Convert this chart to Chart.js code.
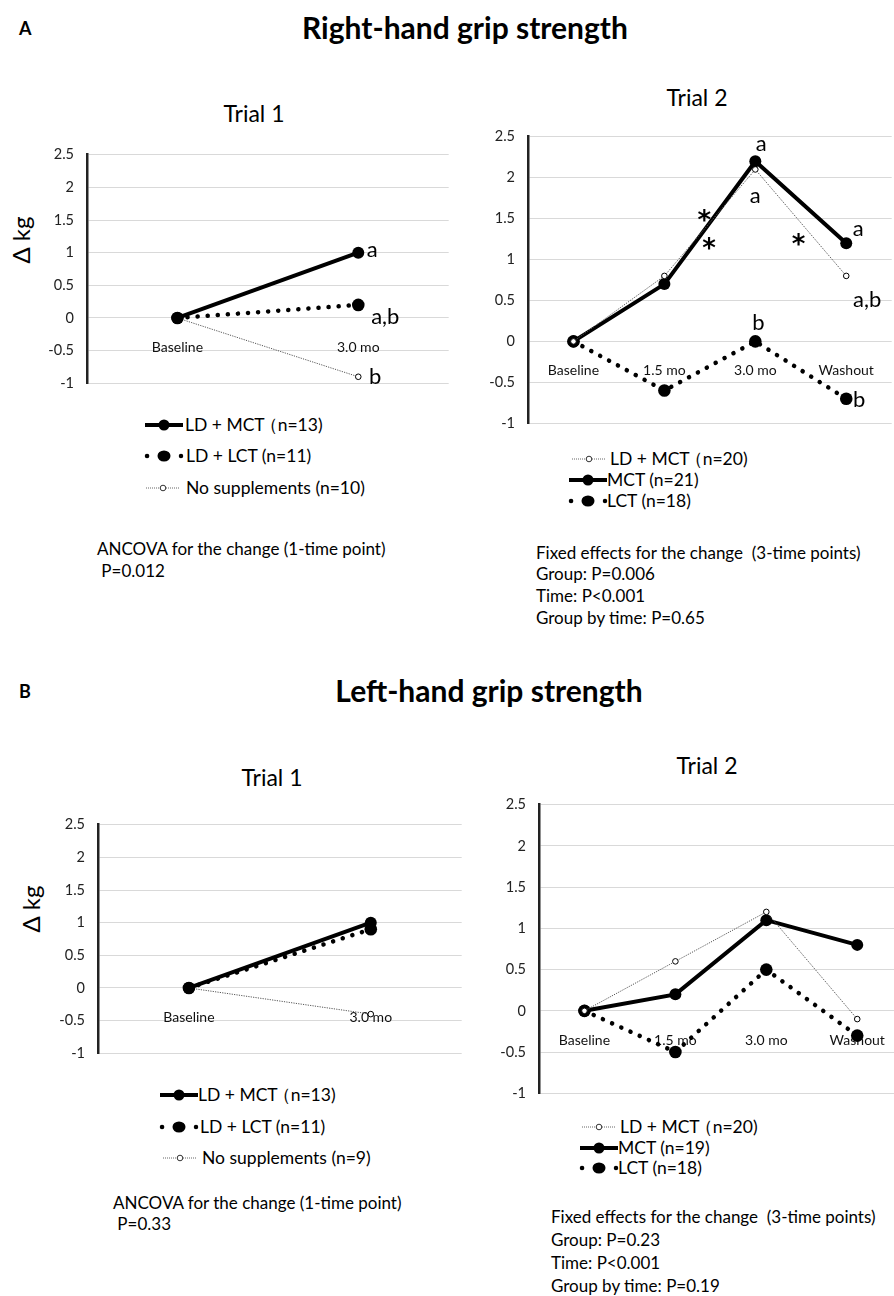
<!DOCTYPE html>
<html>
<head>
<meta charset="utf-8">
<script src="https://cdn.jsdelivr.net/npm/chart.js@4.4.1/dist/chart.umd.min.js"></script>
<style>
  body { margin:0; width:894px; height:1296px; overflow:hidden; position:relative; background:#fff;
         font-family: Lato, "Open Sans", sans-serif; color:#000; }
  .t { position:absolute; white-space:pre; transform:translateY(-50%); line-height:1; }
  .c { transform:translate(-50%,-50%); }
  .big { font-weight:bold; font-size:30px; }
  .pan { font-weight:bold; font-size:18px; }
  .trial { font-size:23px; }
  .ylab { font-size:24px; transform:translate(-50%,-50%) rotate(-90deg); }
  .leg { font-size:17.5px; }
  .stat { font-size:17px; }
  canvas { position:absolute; }
  svg { position:absolute; overflow:visible; }
</style>
</head>
<body>

<div class="t pan" style="left:19px;top:28px">A</div>
<div class="t big c" style="left:465px;top:27px">Right-hand grip strength</div>
<div class="t pan" style="left:19px;top:691px">B</div>
<div class="t big c" style="left:489px;top:690px">Left-hand grip strength</div>

<div class="t trial c" style="left:254px;top:113px">Trial 1</div>
<div class="t trial c" style="left:697px;top:97px">Trial 2</div>
<div class="t trial c" style="left:272px;top:777px">Trial 1</div>
<div class="t trial c" style="left:707px;top:765px">Trial 2</div>

<div class="t ylab" style="left:21px;top:240px">Δ kg</div>
<div class="t ylab" style="left:31px;top:909px">Δ kg</div>

<canvas id="cA1" width="418" height="272" style="left:37px;top:133px"></canvas>
<canvas id="cA2" width="420" height="330" style="left:478px;top:115px"></canvas>
<canvas id="cB1" width="420" height="272" style="left:48px;top:803px"></canvas>
<canvas id="cB2" width="420" height="332" style="left:489px;top:783px"></canvas>

<div id="legends"></div>

<div class="t stat" style="left:97px;top:548px">ANCOVA for the change (1-time point)</div>
<div class="t stat" style="left:97px;top:570px"> P=0.012</div>

<div class="t stat" style="left:536px;top:552px">Fixed effects for the change  (3-time points)</div>
<div class="t stat" style="left:536px;top:573px">Group: P=0.006</div>
<div class="t stat" style="left:536px;top:595px">Time: P&lt;0.001</div>
<div class="t stat" style="left:536px;top:617px">Group by time: P=0.65</div>

<div class="t stat" style="left:113px;top:1202px">ANCOVA for the change (1-time point)</div>
<div class="t stat" style="left:113px;top:1223px"> P=0.33</div>

<div class="t stat" style="left:551px;top:1216px">Fixed effects for the change  (3-time points)</div>
<div class="t stat" style="left:551px;top:1239px">Group: P=0.23</div>
<div class="t stat" style="left:551px;top:1262px">Time: P&lt;0.001</div>
<div class="t stat" style="left:551px;top:1285px">Group by time: P=0.19</div>

<script>
// categories
const trial1Labels = ['Baseline', '3.0 mo'];
const trial2Labels = ['Baseline', '1.5 mo', '3.0 mo', 'Washout'];
const yTickValues = [-1, -0.5, 0, 0.5, 1, 1.5, 2, 2.5];

// right hand, trial 1
const rA1_ldmct = [0, 1.0];
const rA1_ldlct = [0, 0.2];
const rA1_none = [0, -0.9];
// right hand, trial 2
const rA2_ldmct = [0, 0.8, 2.1, 0.8];
const rA2_mct = [0, 0.7, 2.2, 1.2];
const rA2_lct = [0, -0.6, 0, -0.7];
// left hand, trial 1
const lB1_ldmct = [0, 1.0];
const lB1_ldlct = [0, 0.9];
const lB1_none = [0, -0.4];
// left hand, trial 2
const lB2_ldmct = [0, 0.6, 1.2, -0.1];
const lB2_mct = [0, 0.2, 1.1, 0.8];
const lB2_lct = [0, -0.5, 0.5, -0.3];

// legend names
const namesT1A = ['LD + MCT（n=13)', 'LD + LCT (n=11)', 'No supplements (n=10)'];
const namesT2A = ['LD + MCT（n=20)', 'MCT (n=21)', 'LCT (n=18)'];
const namesT1B = ['LD + MCT（n=13)', 'LD + LCT (n=11)', 'No supplements (n=9)'];
const namesT2B = ['LD + MCT（n=20)', 'MCT (n=19)', 'LCT (n=18)'];

const FONT = 'Lato, "Open Sans", sans-serif';
const STAR = 'bold 26px "DejaVu Sans", sans-serif';

const thick = { borderColor:'#000', borderWidth:4, pointRadius:6, pointHoverRadius:6,
  pointBackgroundColor:'#000', pointBorderColor:'#000', pointBorderWidth:0 };
const dots = { borderColor:'#000', borderWidth:4.5, borderDash:[0.1, 10], borderCapStyle:'round',
  pointRadius:6.3, pointHoverRadius:6.3, pointBackgroundColor:'#000', pointBorderColor:'#000', pointBorderWidth:0 };
const thin = { borderColor:'#555', borderWidth:1, borderDash:[1.2, 1.2], pointRadius:2.8, pointHoverRadius:2.8,
  pointBackgroundColor:'#fff', pointBorderColor:'#000', pointBorderWidth:1 };

const letters = {
  id: 'letters',
  afterDatasetsDraw(chart, args, opts) {
    const ctx = chart.ctx, x = chart.scales.x, y = chart.scales.y;
    (opts.items || []).forEach(a => {
      let px, py;
      if (a.ds !== undefined) {
        const pt = chart.getDatasetMeta(a.ds).data[a.i];
        px = pt.x; py = pt.y;
      } else {
        px = x.getPixelForValue(a.x); py = y.getPixelForValue(a.y);
      }
      ctx.save();
      ctx.font = a.font || ('22px ' + FONT);
      ctx.fillStyle = '#000';
      ctx.textAlign = 'center';
      ctx.textBaseline = 'middle';
      ctx.fillText(a.text, px + (a.dx || 0), py + (a.dy || 0));
      ctx.restore();
    });
  }
};

function makeChart(id, labels, sets, items) {
  return new Chart(document.getElementById(id), {
    type: 'line',
    data: { labels: labels, datasets: sets },
    plugins: [letters],
    options: {
      responsive: false, animation: false, devicePixelRatio: 1,
      layout: { padding: { top: 12, bottom: 12, left: 0, right: 0 } },
      plugins: { legend: { display: false }, tooltip: { enabled: false }, letters: { items: items } },
      elements: { line: { tension: 0 } },
      scales: {
        x: {
          offset: true,
          position: { y: 0 },
          afterFit: s => { s.height = 0; },
          grid: { display: false },
          border: { display: false },
          ticks: { color: '#111', padding: 13, font: { family: FONT, size: 14 }, maxRotation: 0, autoSkip: false }
        },
        y: {
          min: -1, max: 2.5,
          afterBuildTicks: s => { s.ticks = yTickValues.map(v => ({ value: v })); },
          afterFit: s => { s.width = 50; },
          grid: { color: '#d9d9d9', lineWidth: 1, drawTicks: false },
          border: { display: true, color: '#222', width: 2.5 },
          ticks: { color: '#222', padding: 13, font: { family: FONT, size: 14.5 },
                   callback: v => String(v) }
        }
      }
    }
  });
}

makeChart('cA1', trial1Labels, [
  Object.assign({ label: namesT1A[0], data: rA1_ldmct }, thick),
  Object.assign({ label: namesT1A[1], data: rA1_ldlct }, dots),
  Object.assign({ label: namesT1A[2], data: rA1_none }, thin)
], [
  { ds: 0, i: 1, text: 'a', dx: 14, dy: -3 },
  { ds: 1, i: 1, text: 'a,b', dx: 27, dy: 12 },
  { ds: 2, i: 1, text: 'b', dx: 17, dy: 0 }
]);

makeChart('cA2', trial2Labels, [
  Object.assign({ label: namesT2A[0], data: rA2_ldmct }, thin),
  Object.assign({ label: namesT2A[1], data: rA2_mct }, thick),
  Object.assign({ label: namesT2A[2], data: rA2_lct }, dots)
], [
  { ds: 1, i: 2, text: 'a', dx: 6, dy: -17 },
  { ds: 0, i: 2, text: 'a', dx: 0, dy: 26 },
  { ds: 1, i: 3, text: 'a', dx: 12, dy: -14 },
  { ds: 0, i: 3, text: 'a,b', dx: 21, dy: 24 },
  { ds: 2, i: 2, text: 'b', dx: 3, dy: -19 },
  { ds: 2, i: 3, text: 'b', dx: 13, dy: 1 },
  { x: 1.438, y: 1.556, text: '*', dy: 8, font: STAR },
  { x: 1.49, y: 1.212, text: '*', dy: 8, font: STAR },
  { x: 2.476, y: 1.258, text: '*', dy: 8, font: STAR }
]);

makeChart('cB1', trial1Labels, [
  Object.assign({ label: namesT1B[0], data: lB1_ldmct }, thick),
  Object.assign({ label: namesT1B[1], data: lB1_ldlct }, dots),
  Object.assign({ label: namesT1B[2], data: lB1_none }, thin)
], []);

makeChart('cB2', trial2Labels, [
  Object.assign({ label: namesT2B[0], data: lB2_ldmct }, thin),
  Object.assign({ label: namesT2B[1], data: lB2_mct }, thick),
  Object.assign({ label: namesT2B[2], data: lB2_lct }, dots)
], []);

// legends: swatch drawn as small svg, label as text
const swatch = {
  thick: '<line x1="0" y1="7" x2="38" y2="7" stroke="#000" stroke-width="4"/><circle cx="19" cy="7" r="5.5" fill="#000"/>',
  dots: '<line x1="2" y1="7" x2="36" y2="7" stroke="#000" stroke-width="4.5" stroke-linecap="round" stroke-dasharray="0.1 16.9"/><ellipse cx="19" cy="7" rx="6.5" ry="5.5" fill="#000"/>',
  thin: '<line x1="0" y1="7" x2="34" y2="7" stroke="#666" stroke-width="1" stroke-dasharray="1 1"/><circle cx="17" cy="7" r="2.8" fill="#fff" stroke="#333" stroke-width="1"/>'
};
function legend(items) {
  let html = '';
  items.forEach(it => {
    const label = it.name.replace('（', '<span style="margin-left:-5px">（</span>');
    html += '<svg width="38" height="14" style="left:' + it.sx + 'px;top:' + (it.y - 7) + 'px">' + swatch[it.kind] + '</svg>';
    html += '<div class="t leg" style="left:' + it.tx + 'px;top:' + it.y + 'px">' + label + '</div>';
  });
  document.getElementById('legends').insertAdjacentHTML('beforeend', html);
}
legend([
  { kind: 'thick', name: namesT1A[0], sx: 145, tx: 185, y: 425 },
  { kind: 'dots', name: namesT1A[1], sx: 145, tx: 186, y: 456 },
  { kind: 'thin', name: namesT1A[2], sx: 146, tx: 186, y: 488 },
  { kind: 'thin', name: namesT2A[0], sx: 572, tx: 610, y: 459 },
  { kind: 'thick', name: namesT2A[1], sx: 569, tx: 607, y: 480 },
  { kind: 'dots', name: namesT2A[2], sx: 569, tx: 607, y: 501 },
  { kind: 'thick', name: namesT1B[0], sx: 160, tx: 198, y: 1095 },
  { kind: 'dots', name: namesT1B[1], sx: 160, tx: 200, y: 1127 },
  { kind: 'thin', name: namesT1B[2], sx: 163, tx: 202, y: 1158 },
  { kind: 'thin', name: namesT2B[0], sx: 582, tx: 620, y: 1127 },
  { kind: 'thick', name: namesT2B[1], sx: 580, tx: 618, y: 1148 },
  { kind: 'dots', name: namesT2B[2], sx: 580, tx: 618, y: 1168 }
]);
</script>
</body>
</html>
